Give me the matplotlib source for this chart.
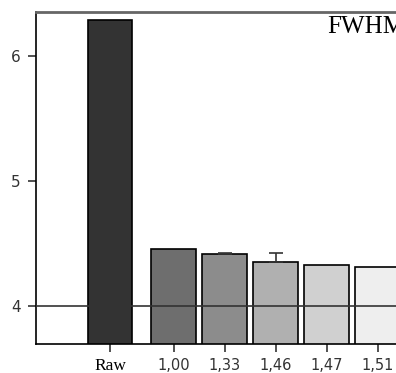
import numpy as np
import matplotlib.pyplot as plt

labels = ['Raw', '1,00', '1,33', '1,46', '1,47', '1,51']
values = [6.29, 4.456, 4.416, 4.355, 4.326, 4.315]
errors = [0.0, 0.0, 0.008, 0.07, 0.0, 0.0]
colors = ['#333333', '#6e6e6e', '#8c8c8c', '#b0b0b0', '#d0d0d0', '#eeeeee']

# Raw sits a little further away from the rest
pos = np.array([0, 1.25, 2.25, 3.25, 4.25, 5.25])

fig = plt.figure(figsize=(3.96, 3.73), dpi=100)
ax = fig.add_axes([36 / 396, 29 / 373, 1 - 36 / 396, 332 / 373])

ax.bar(pos, values, width=0.88, color=colors, edgecolor='black', linewidth=1.2, zorder=2)
for p, v, e in zip(pos, values, errors):
    if e > 0:
        ax.errorbar(p, v, yerr=[[0], [e]], fmt='none', ecolor='#333333',
                    elinewidth=1.2, capsize=5, capthick=1.2, zorder=3)

ax.axhline(4, color='#333333', linewidth=1.2, zorder=4)

ax.set_ylim(3.696, 6.352)
ax.set_xlim(-1.45, 5.61)
ax.set_yticks([4, 5, 6])
ax.set_yticklabels(['4', '5', '6'], fontsize=11, color='#333333')
ax.set_xticks(pos)
ax.set_xticklabels(labels, fontsize=10.5, color='#333333')
raw = ax.get_xticklabels()[0]
raw.set_fontfamily('Liberation Serif')
raw.set_fontsize(12.5)
raw.set_color('black')

ax.tick_params(axis='both', direction='out', length=6, width=1.2, color='#333333')
ax.tick_params(axis='x', pad=4)
ax.tick_params(axis='y', pad=5)

ax.spines['right'].set_visible(False)
ax.spines['top'].set_color('#666666')
ax.spines['top'].set_linewidth(2)
ax.spines['left'].set_color('black')
ax.spines['left'].set_linewidth(1.2)
ax.spines['bottom'].set_color('black')
ax.spines['bottom'].set_linewidth(1.2)

# the title runs past the right edge in the original too
fig.text(327 / 396, 1 - 33 / 373, 'FWHM', fontsize=18, family='Liberation Serif',
         va='baseline', ha='left')

fig.savefig('out.png', dpi=100)
